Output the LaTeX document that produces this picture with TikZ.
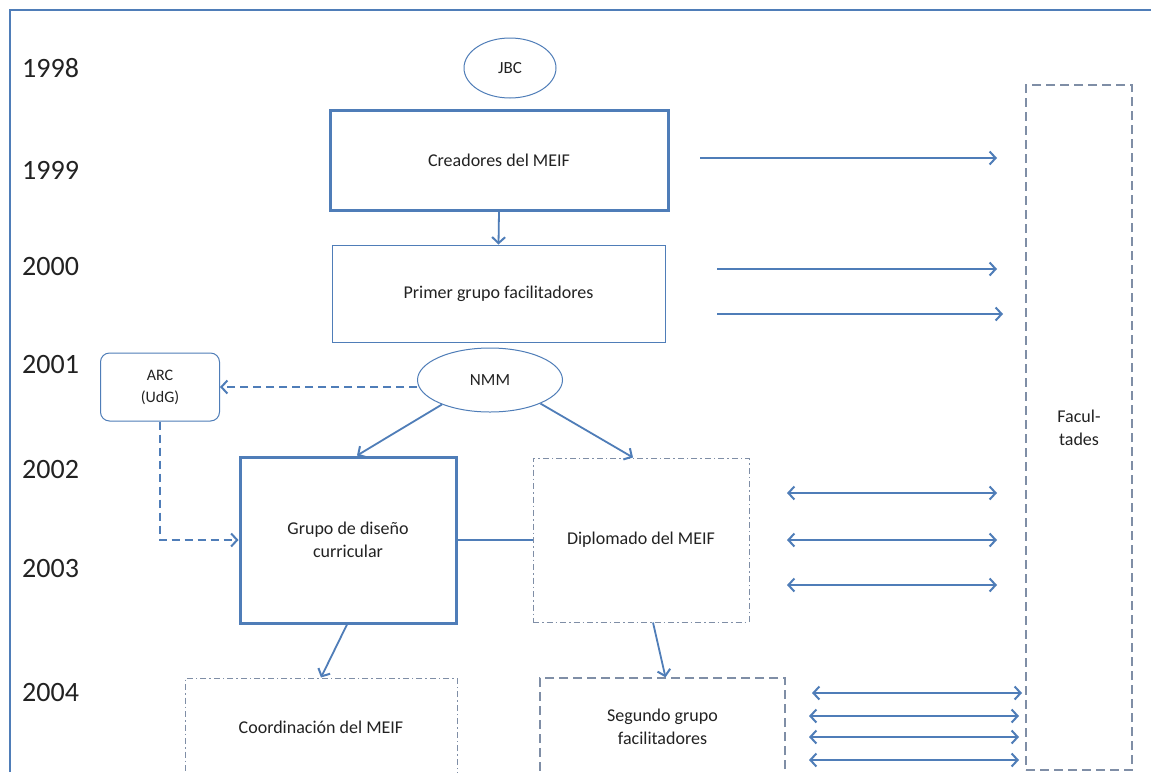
\documentclass[tikz,border=0pt]{standalone}
\usepackage{fontspec}
\setmainfont{Carlito}
\usetikzlibrary{arrows.meta,shapes.geometric}
\definecolor{lineblue}{HTML}{4F7DB8}
\definecolor{dashgray}{HTML}{7F8EA6}
\definecolor{txt}{HTML}{222222}
\begin{document}
\begin{tikzpicture}[x=1pt,y=-1pt,
  year/.style={font=\fontsize{28}{30}\selectfont, anchor=west, text=txt, inner sep=0pt},
  lbl/.style={font=\fontsize{18}{23}\selectfont, align=center, text=txt, inner sep=0pt},
  small/.style={font=\fontsize{17}{22}\selectfont, align=center, text=txt, inner sep=0pt},
  thickbox/.style={draw=lineblue, line width=3pt, rectangle, lbl},
  thinbox/.style={draw=lineblue, line width=1pt, rectangle, lbl},
  dotbox/.style={draw=dashgray, line width=1pt, rectangle, dash pattern=on 6pt off 3pt on 1.5pt off 3pt, lbl},
  dashbox/.style={draw=dashgray, line width=1.3pt, rectangle, dash pattern=on 9pt off 5pt, lbl},
  oval/.style={draw=lineblue, line width=1pt, ellipse, small},
  barb/.tip={Straight Barb[length=6pt,width=13pt,line width=2pt]},
  conn/.style={draw=lineblue, line width=1.8pt, -barb},
  dconn/.style={draw=lineblue, line width=1.8pt, barb-barb},
  dashconn/.style={draw=lineblue, line width=1.4pt, dash pattern=on 8pt off 5pt, -barb}
]
\clip (0,0) rectangle (1151,772);
\fill[white] (0,0) rectangle (1151,772);

% frame
\coordinate (fa) at (10,772);
\coordinate (fb) at (10,10);
\coordinate (fc) at (1151,10);
\draw[lineblue, line width=2pt] (fa) -- (fb) -- (fc);

% years
\node[year] (y98) at (22,68) {1998};
\node[year] (y99) at (22,170) {1999};
\node[year] (y00) at (22,267) {2000};
\node[year] (y01) at (22,365) {2001};
\node[year] (y02) at (22,470) {2002};
\node[year] (y03) at (22,568) {2003};
\node[year] (y04) at (22,692) {2004};

% nodes
\node[oval, minimum width=92pt, minimum height=60pt] (jbc) at (510,68) {JBC};
\node[thickbox, minimum width=338pt, minimum height=100pt] (crea) at (499,160) {Creadores del MEIF};
\node[thinbox, minimum width=333pt, minimum height=97pt] (prim) at (498.5,293.5) {Primer grupo facilitadores};
\node[oval, minimum width=145pt, minimum height=64pt] (nmm) at (490,380) {NMM};
\node[draw=lineblue, line width=1pt, rounded corners=9pt, minimum width=119pt, minimum height=68pt, font=\fontsize{16}{22}\selectfont, align=center, text=txt, inner sep=0pt] (arc) at (160,387) {ARC\\(UdG)};
\node[thickbox, minimum width=216pt, minimum height=166pt] (grupo) at (348,540) {Grupo de diseño\\curricular};
\node[dotbox, minimum width=216pt, minimum height=164pt] (dipl) at (641,540) {Diplomado del MEIF};
\node[dotbox, minimum width=272pt, minimum height=98pt] (coord) at (321,727) {Coordinación del MEIF};
\node[dashbox, minimum width=245pt, minimum height=98pt] (seg) at (662.5,727) {Segundo grupo\\facilitadores};
\node[dashbox, minimum width=106pt, minimum height=685pt] (fac) at (1079,427.5) {Facul-\\tades};

% connectors
\draw[conn] (crea.south) -- (prim.north);
\draw[dashconn] (nmm.west |- arc.east) -- (arc.east);
\draw[dashconn] (arc.south) |- (grupo.west);
\draw[conn] (nmm.207) -- ([xshift=9pt]grupo.north);
\draw[conn] (nmm.335) -- ([xshift=-8pt]dipl.north);
\draw[draw=lineblue, line width=1.4pt] (grupo.east) -- (dipl.west);
\draw[conn] ([xshift=-1pt]grupo.south) -- (coord.north);
\draw[conn] ([xshift=12pt]dipl.south) -- ([xshift=3pt]seg.north);

% arrows towards Facultades
\coordinate (a1) at (700,158);  \coordinate (b1) at (997,158);
\coordinate (a2) at (717,269);  \coordinate (b2) at (997,269);
\coordinate (a3) at (717,314);  \coordinate (b3) at (1003,314);
\draw[conn] (a1) -- (b1);
\draw[conn] (a2) -- (b2);
\draw[conn] (a3) -- (b3);

\coordinate (c1) at (787,493);  \coordinate (d1) at (997,493);
\coordinate (c2) at (787,540);  \coordinate (d2) at (997,540);
\coordinate (c3) at (787,585);  \coordinate (d3) at (997,585);
\draw[dconn] (c1) -- (d1);
\draw[dconn] (c2) -- (d2);
\draw[dconn] (c3) -- (d3);

\coordinate (e1) at (812,693);  \coordinate (f1) at (1022,693);
\coordinate (e2) at (809,716);  \coordinate (f2) at (1019,716);
\coordinate (e3) at (809,737);  \coordinate (f3) at (1019,737);
\coordinate (e4) at (809,760);  \coordinate (f4) at (1019,760);
\draw[dconn] (e1) -- (f1);
\draw[dconn] (e2) -- (f2);
\draw[dconn] (e3) -- (f3);
\draw[dconn] (e4) -- (f4);
\end{tikzpicture}
\end{document}
